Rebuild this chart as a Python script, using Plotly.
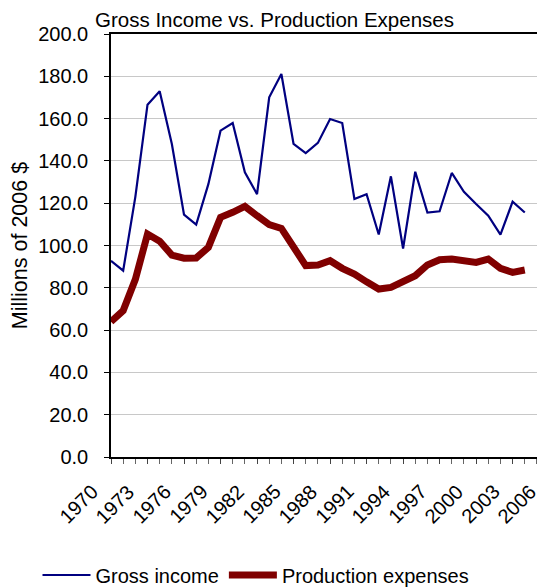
import plotly.graph_objects as go

# values (millions of 2006 $)
years = list(range(1970, 2005))
gross_income = [
    92.8, 88.1, 123.0, 166.6, 172.9, 148.0, 114.6, 109.9, 129.0, 154.3,
    157.9, 134.6, 124.3, 170.1, 181.1, 148.0, 143.7, 148.5, 159.8, 157.9,
    122.0, 124.3, 105.2, 132.7, 98.6, 134.9, 115.6, 116.2, 134.3, 125.4,
    119.6, 114.1, 105.1, 120.7, 115.6,
]
production_expenses = [
    64.0, 69.2, 84.0, 105.4, 102.0, 95.5, 94.0, 94.1, 99.1, 113.3,
    115.7, 118.5, 114.1, 109.9, 108.1, 99.1, 90.5, 90.8, 92.8, 89.2,
    86.5, 82.8, 79.4, 80.2, 83.4, 85.7, 90.8, 93.3, 93.6, 93.1,
    92.0, 93.6, 89.2, 87.3, 88.4,
]
label_years = list(range(1970, 2007, 3))

FONT = "Liberation Sans, Arial, sans-serif"
# the page body has an 8px margin, so the figure is drawn 8px smaller than the window
W, H = 537, 579
LEFT, TOP, BOTTOM = 103, 26, 130
PX_PER_YEAR = 12.17

fig = go.Figure()
fig.add_trace(go.Scatter(
    x=years, y=gross_income, name="Gross income", mode="lines",
    line={"color": "#000080", "width": 2.2},
))
fig.add_trace(go.Scatter(
    x=years, y=production_expenses, name="Production expenses", mode="lines",
    line={"color": "#800000", "width": 7},
))

# plot area runs past the right edge of the picture, so the range is cut there
x_max = 1970 + (W - LEFT) / PX_PER_YEAR

# rotated year labels, placed in paper units so 2006 (past the cut) still shows
for yr in label_years:
    fig.add_annotation(
        x=(yr - 1970) / (x_max - 1970), xref="paper", y=0, yref="paper",
        text=str(yr), textangle=-45,
        showarrow=False, xanchor="right", yanchor="top", xshift=-6, yshift=-20,
        font={"size": 20, "family": FONT, "color": "black"},
    )

fig.update_layout(
    width=W, height=H,
    margin={"l": LEFT, "r": 0, "t": TOP, "b": BOTTOM, "autoexpand": False},
    plot_bgcolor="white", paper_bgcolor="white",
    font={"family": FONT, "size": 20, "color": "black"},
    title={"text": "Gross Income vs. Production Expenses", "x": 266.5 / W, "xanchor": "center",
           "y": 1 - 12 / H, "yanchor": "middle", "font": {"size": 20.5}},
    showlegend=True,
    legend={"orientation": "h", "xref": "container", "yref": "container",
            "x": 248 / W, "xanchor": "center", "y": 1 - 567 / H, "yanchor": "middle",
            "font": {"size": 20}, "bgcolor": "rgba(0,0,0,0)", "itemwidth": 48},
    xaxis={
        "range": [1970, x_max], "tick0": 1970, "dtick": 3, "showticklabels": False,
        "ticks": "outside", "ticklen": 5, "tickcolor": "#444",
        "showline": True, "linecolor": "black", "linewidth": 1.5, "mirror": True,
        "showgrid": False, "zeroline": False,
        "minor": {"dtick": 1, "tick0": 1970, "ticks": "outside", "ticklen": 5, "tickcolor": "#666"},
    },
    yaxis={
        "range": [0, 200], "dtick": 20, "tickformat": ".1f",
        "ticks": "outside", "ticklen": 5, "tickcolor": "black",
        "showline": True, "linecolor": "black", "linewidth": 1.5,
        "showgrid": True, "gridcolor": "#c8c8c8", "gridwidth": 1, "zeroline": False,
        "title": {"text": "Millions of 2006 $", "standoff": 5, "font": {"size": 21.5}},
        "ticklabelstandoff": 12,
    },
)

fig.write_html("out.html")
